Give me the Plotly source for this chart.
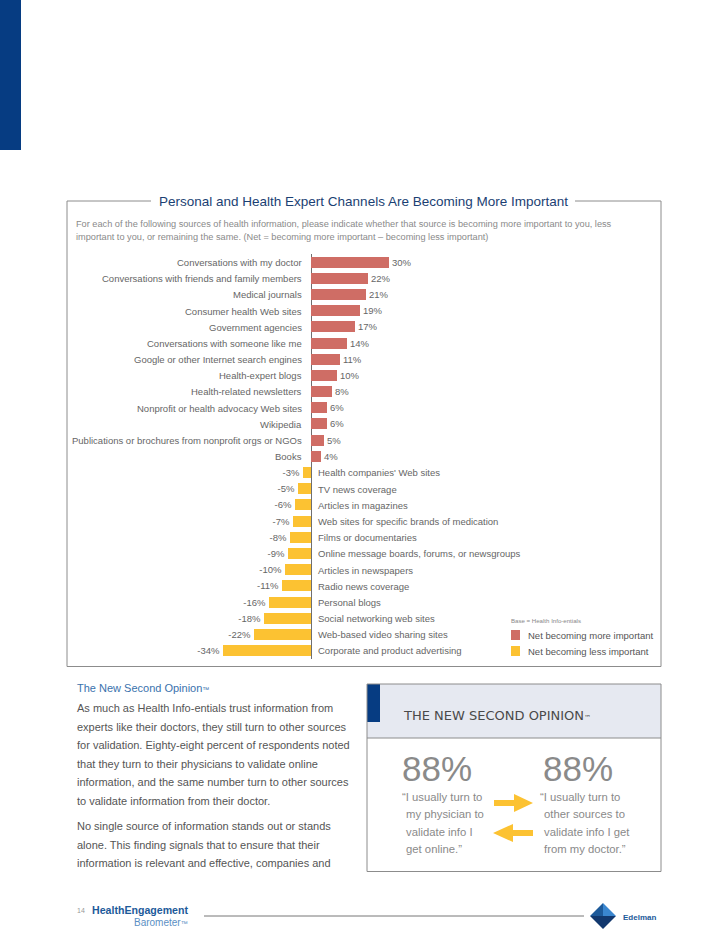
import plotly.graph_objects as go

W, H = 728, 942

# ---------------- data ----------------
pos_labels = ["Conversations with my doctor", "Conversations with friends and family members",
              "Medical journals", "Consumer health Web sites", "Government agencies",
              "Conversations with someone like me", "Google or other Internet search engines",
              "Health-expert blogs", "Health-related newsletters",
              "Nonprofit or health advocacy Web sites", "Wikipedia",
              "Publications or brochures from nonprofit orgs or NGOs", "Books"]
pos_values = [30, 22, 21, 19, 17, 14, 11, 10, 8, 6, 6, 5, 4]

neg_labels = ["Health companies' Web sites", "TV news coverage", "Articles in magazines",
              "Web sites for specific brands of medication", "Films or documentaries",
              "Online message boards, forums, or newsgroups", "Articles in newspapers",
              "Radio news coverage", "Personal blogs", "Social networking web sites",
              "Web-based video sharing sites", "Corporate and product advertising"]
neg_values = [-3, -5, -6, -7, -8, -9, -10, -11, -16, -18, -22, -34]

legend_labels = ["Net becoming more important", "Net becoming less important"]
stat_values = ["88%", "88%"]

# ---------------- helpers ----------------
def px(x):
    return x / W

def py(y):
    return 1 - y / H

FONT = "Liberation Sans"
RED = "#cf6d65"
YEL = "#fcc232"
BLUE = "#063c82"
GRAY_TXT = "#666666"
TM = '<span style="font-size:7px">\u2122</span>'

n_pos = len(pos_values)
pos_idx = list(range(n_pos))
neg_idx = list(range(n_pos, n_pos + len(neg_values)))
n_rows = n_pos + len(neg_values)

row0, rowN = 262.5, 651.0
step = (rowN - row0) / (n_rows - 1)
y_top_px = row0 - step / 2
y_bot_px = rowN + step / 2

zero_px = 311.0
scale = 2.6
xr = [-40, 40]
x_left_px = zero_px + xr[0] * scale
x_right_px = zero_px + xr[1] * scale

fig = go.Figure()
fig.add_trace(go.Bar(
    y=pos_idx, x=pos_values, orientation="h", marker=dict(color=RED, line=dict(width=0)),
    width=0.68, text=[f"{v}%" for v in pos_values], textposition="outside",
    textfont=dict(family=FONT, size=9.5, color=GRAY_TXT), constraintext="none",
    cliponaxis=False, showlegend=False, hoverinfo="skip"))
fig.add_trace(go.Bar(
    y=neg_idx, x=neg_values, orientation="h", marker=dict(color=YEL, line=dict(width=0)),
    width=0.68, text=[f"{v}%" for v in neg_values], textposition="outside",
    textfont=dict(family=FONT, size=9.5, color=GRAY_TXT), constraintext="none",
    cliponaxis=False, showlegend=False, hoverinfo="skip"))

ann = []
for i, lab in zip(pos_idx, pos_labels):
    ann.append(dict(x=0, y=i, xref="x", yref="y", text=lab, showarrow=False,
                    xanchor="right", yanchor="middle", xshift=-7,
                    font=dict(family=FONT, size=9.5, color=GRAY_TXT)))
for i, lab in zip(neg_idx, neg_labels):
    ann.append(dict(x=0, y=i, xref="x", yref="y", text=lab, showarrow=False,
                    xanchor="left", yanchor="middle", xshift=5,
                    font=dict(family=FONT, size=9.5, color=GRAY_TXT)))

def txt(x, y, s, size, color, anchor="left", weight="normal", family=FONT, yanchor="middle"):
    ann.append(dict(x=px(x), y=py(y), xref="paper", yref="paper", text=s, showarrow=False,
                    xanchor=anchor, yanchor=yanchor,
                    font=dict(family=family, size=size, color=color, weight=weight)))

# chart frame title and question
txt(363, 201, "Personal and Health Expert Channels Are Becoming More Important", 13.5, "#1b3f73", "center")
txt(74, 224, "For each of the following sources of health information, please indicate whether that source is becoming more important to you, less", 9.2, "#8a8a8a")
txt(74, 237, "important to you, or remaining the same. (Net = becoming more important \u2013 becoming less important)", 9.2, "#8a8a8a")

# legend
txt(509, 620, "Base = Health Info-entials", 6.1, "#888888")
txt(526, 635, legend_labels[0], 9.5, "#555555")
txt(526, 651, legend_labels[1], 9.5, "#555555")

# body text
txt(75, 688, "The New Second Opinion" + TM, 11, "#3a72ad")
body = ["As much as Health Info-entials trust information from",
        "experts like their doctors, they still turn to other sources",
        "for validation. Eighty-eight percent of respondents noted",
        "that they turn to their physicians to validate online",
        "information, and the same number turn to other sources",
        "to validate information from their doctor."]
for k, line in enumerate(body):
    txt(75, 708 + k * 18.6, line, 11, "#555555")
body2 = ["No single source of information stands out or stands",
         "alone. This finding signals that to ensure that their",
         "information is relevant and effective, companies and"]
for k, line in enumerate(body2):
    txt(75, 826 + k * 18.6, line, 11, "#555555")

# right box
txt(401, 715, "THE NEW SECOND OPINION" + TM, 13, "#4a4a4a", family="DejaVu Sans")
txt(400, 768, stat_values[0], 35, "#8a8a8a", weight=300)
txt(541, 768, stat_values[1], 35, "#8a8a8a", weight=300)
q1 = ["\u201cI usually turn to", "my physician to", "validate info I", "get online.\u201d"]
q2 = ["\u201cI usually turn to", "other sources to", "validate info I get", "from my doctor.\u201d"]
for k, line in enumerate(q1):
    txt(400 + (0 if k == 0 else 4), 797 + k * 17.4, line, 11.3, "#8a8a8a")
for k, line in enumerate(q2):
    txt(538 + (0 if k == 0 else 4), 797 + k * 17.4, line, 11.3, "#8a8a8a")

# footer
txt(75, 910, "14", 7, "#999999")
txt(90, 910, "HealthEngagement", 10.6, "#1d5a9a", weight="bold")
txt(190, 922, "Barometer" + TM, 10, "#5b8fc4", anchor="right")
txt(621, 917, "Edelman", 8, "#1d5a9a", weight="bold")

shapes = []

def rect(x0, y0, x1, y1, fill=None, line=None, lw=1):
    shapes.append(dict(type="rect", xref="paper", yref="paper", x0=px(x0), x1=px(x1),
                       y0=py(y1), y1=py(y0), fillcolor=fill if fill else "rgba(0,0,0,0)",
                       line=dict(color=line if line else "rgba(0,0,0,0)", width=lw if line else 0),
                       layer="below"))

def seg(x0, y0, x1, y1, color="#8c8c8c", lw=1):
    shapes.append(dict(type="line", xref="paper", yref="paper", x0=px(x0), x1=px(x1),
                       y0=py(y0), y1=py(y1), line=dict(color=color, width=lw)))

def poly(pts, fill):
    d = "M " + " L ".join(f"{px(a):.5f},{py(b):.5f}" for a, b in pts) + " Z"
    shapes.append(dict(type="path", xref="paper", yref="paper", path=d,
                       fillcolor=fill, line=dict(width=0)))

# top-left blue band
rect(0, 0, 21, 150, fill=BLUE)

# chart frame
seg(67, 201, 151, 201)
seg(575, 201, 661, 201)
seg(67, 201, 67, 666.5)
seg(661, 201, 661, 666.5)
seg(67, 666.5, 661, 666.5)

# legend squares
rect(511, 630, 520, 640, fill=RED)
rect(511, 646, 520, 656, fill=YEL)

# right box
rect(367, 684, 661, 738, fill="#e6e9f1")
seg(367, 684, 661, 684)
seg(367, 738, 661, 738)
seg(367, 684, 367, 871.5)
seg(661, 684, 661, 871.5)
seg(367, 871.5, 661, 871.5)
rect(367, 684, 380, 722, fill=BLUE)

# arrows
poly([(494, 800), (514, 800), (514, 794), (533, 803), (514, 812), (514, 806), (494, 806)], YEL)
poly([(533, 830), (513, 830), (513, 824), (493, 833), (513, 842), (513, 836), (533, 836)], YEL)

# footer line and logo
seg(204, 916, 584, 916, color="#777777", lw=1)
poly([(603, 903), (616, 916), (603, 916)], "#3a86cf")
poly([(603, 903), (603, 916), (590, 916)], "#1d5a9a")
poly([(590, 916), (616, 916), (603, 929)], "#12386e")

fig.update_layout(
    width=W, height=H, margin=dict(l=0, r=0, t=0, b=0),
    paper_bgcolor="white", plot_bgcolor="rgba(0,0,0,0)",
    barmode="overlay", bargap=0,
    xaxis=dict(domain=[px(x_left_px), px(x_right_px)], range=xr, showgrid=False,
               showticklabels=False, ticks="", zeroline=True, zerolinecolor="#6f6f6f",
               zerolinewidth=1, fixedrange=True),
    yaxis=dict(domain=[py(y_bot_px), py(y_top_px)], range=[n_rows - 0.5, -0.5],
               showgrid=False, showticklabels=False, ticks="", zeroline=False, fixedrange=True),
    annotations=ann, shapes=shapes, showlegend=False,
)

fig.write_html("out.html", config={"displayModeBar": False},
               post_script="document.body.style.margin='0';document.body.style.overflow='hidden';")
